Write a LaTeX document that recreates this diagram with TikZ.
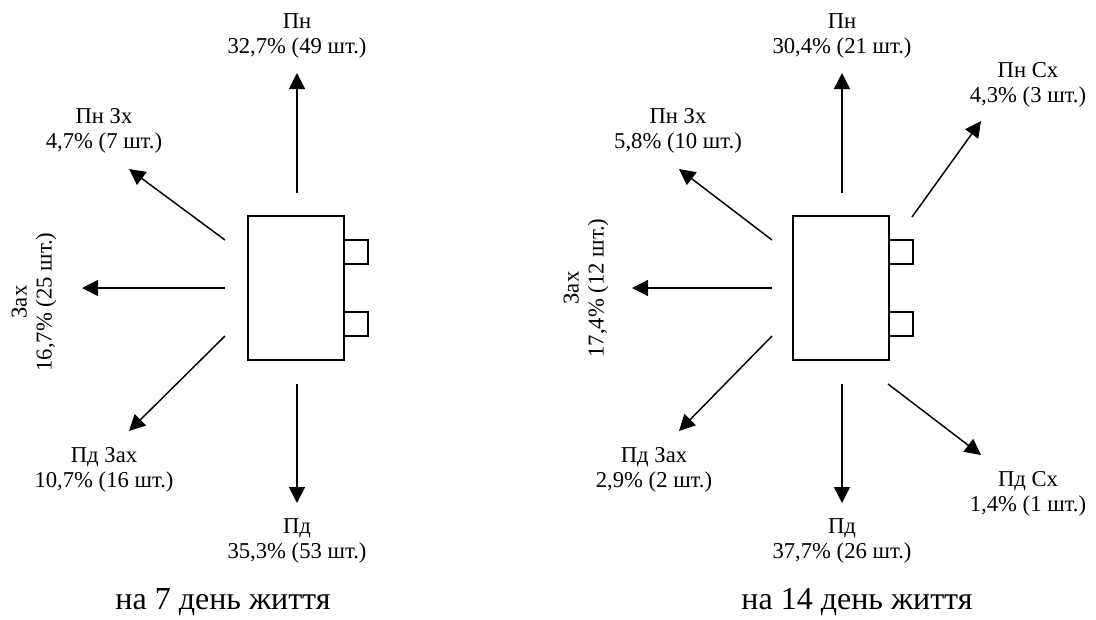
\documentclass[tikz,border=0pt]{standalone}
\usepackage{fontspec}
\setmainfont{Liberation Serif}
\usetikzlibrary{arrows.meta,positioning}

\begin{document}
\begin{tikzpicture}[x=0.75pt,y=-0.75pt,>={Triangle[length=12pt,width=12pt]}]
  \tikzstyle{body}=[draw,line width=1.1pt,minimum width=72pt,minimum height=108pt,
    inner sep=0pt,outer sep=0pt]
  \tikzstyle{ear}=[draw,line width=1.1pt,minimum width=18pt,minimum height=18pt,
    inner sep=0pt,outer sep=0pt,anchor=west]
  \tikzstyle{lbl}=[align=center,inner sep=0pt,font=\fontsize{17}{18.75}\selectfont]
  \tikzstyle{daycap}=[anchor=base,inner sep=0pt,font=\fontsize{24}{28}\selectfont]
  \tikzstyle{arr}=[->,line width=1.1pt]
  \useasboundingbox (0,0) rectangle (1096,619);
  % 7 days
  \node[body] (bodyA) at (296,288) {};
  \node[ear] (earA1) at ([yshift=27pt]bodyA.east) {};
  \node[ear] (earA2) at ([yshift=-27pt]bodyA.east) {};
  \coordinate (upAs) at (297,193);  \coordinate (upAe) at (297,73);
  \coordinate (nwAs) at (225,240);  \coordinate (nwAe) at (129,169);
  \coordinate (wAs) at (225,288);   \coordinate (wAe) at (82,288);
  \coordinate (swAs) at (225,336);  \coordinate (swAe) at (129,431);
  \coordinate (dnAs) at (297,384);  \coordinate (dnAe) at (297,503);
  \draw[arr] (upAs)--(upAe);
  \draw[arr] (nwAs)--(nwAe);
  \draw[arr] (wAs)--(wAe);
  \draw[arr] (swAs)--(swAe);
  \draw[arr] (dnAs)--(dnAe);
  \node[lbl] (pnA) at (297,36) {Пн\\32,7\% (49 шт.)};
  \node[lbl] (pnzA) at (104,131) {Пн Зх\\4,7\% (7 шт.)};
  \node[lbl,rotate=90] (zaA) at (34,302) {Зах\\16,7\% (25 шт.)};
  \node[lbl] (pdzA) at (104,470) {Пд Зах\\10,7\% (16 шт.)};
  \node[lbl] (pdA) at (297,541) {Пд\\35,3\% (53 шт.)};
  \node[daycap] (capA) at (223,609) {на 7 день життя};
  % 14 days
  \node[body] (bodyB) at (841,288) {};
  \node[ear] (earB1) at ([yshift=27pt]bodyB.east) {};
  \node[ear] (earB2) at ([yshift=-27pt]bodyB.east) {};
  \coordinate (upBs) at (842,193);  \coordinate (upBe) at (842,73);
  \coordinate (neBs) at (912,217);  \coordinate (neBe) at (981,121);
  \coordinate (nwBs) at (772,240);  \coordinate (nwBe) at (679,169);
  \coordinate (wBs) at (772,288);   \coordinate (wBe) at (632,288);
  \coordinate (swBs) at (772,336);  \coordinate (swBe) at (679,431);
  \coordinate (dnBs) at (842,384);  \coordinate (dnBe) at (842,503);
  \coordinate (seBs) at (888,384);  \coordinate (seBe) at (981,455);
  \draw[arr] (upBs)--(upBe);
  \draw[arr] (neBs)--(neBe);
  \draw[arr] (nwBs)--(nwBe);
  \draw[arr] (wBs)--(wBe);
  \draw[arr] (swBs)--(swBe);
  \draw[arr] (dnBs)--(dnBe);
  \draw[arr] (seBs)--(seBe);
  \node[lbl] (pnB) at (842,36) {Пн\\30,4\% (21 шт.)};
  \node[lbl] (pnsB) at (1028,85) {Пн Сх\\4,3\% (3 шт.)};
  \node[lbl] (pnzB) at (678,131) {Пн Зх\\5,8\% (10 шт.)};
  \node[lbl,rotate=90] (zaB) at (586,288) {Зах\\17,4\% (12 шт.)};
  \node[lbl] (pdzB) at (654,470) {Пд Зах\\2,9\% (2 шт.)};
  \node[lbl] (pdB) at (842,541) {Пд\\37,7\% (26 шт.)};
  \node[lbl] (pdsB) at (1028,494) {Пд Сх\\1,4\% (1 шт.)};
  \node[daycap] (capB) at (857,609) {на 14 день життя};
\end{tikzpicture}
\end{document}
